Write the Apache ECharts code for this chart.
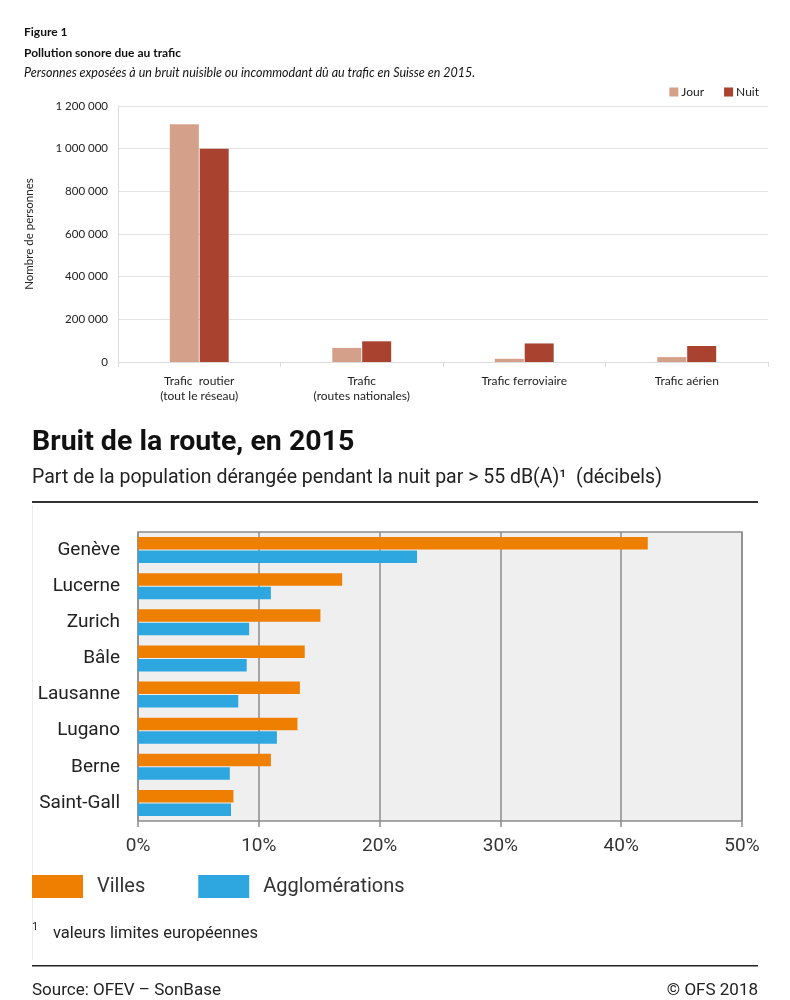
<!DOCTYPE html>
<html>
<head>
<meta charset="utf-8">
<style>
  html, body { margin: 0; padding: 0; background: #fff; }
  #chart { width: 790px; height: 1000px; }
</style>
<script src="https://cdn.jsdelivr.net/npm/echarts@6/dist/echarts.min.js"></script>
</head>
<body>
<div id="chart"></div>
<script>
// figure 1 : personnes exposées au bruit du trafic
var trafficCategories = ['Trafic  routier\n(tout le réseau)', 'Trafic\n(routes nationales)', 'Trafic ferroviaire', 'Trafic aérien'];
var jourValues = [1115000, 66000, 15000, 23000];
var nuitValues = [1000000, 97000, 87000, 75000];

// bruit de la route : part de la population (%)
var cities = ['Genève', 'Lucerne', 'Zurich', 'Bâle', 'Lausanne', 'Lugano', 'Berne', 'Saint-Gall'];
var villesValues = [42.2, 16.9, 15.1, 13.8, 13.4, 13.2, 11.0, 7.9];
var agglosValues = [23.1, 11.0, 9.2, 9.0, 8.3, 11.5, 7.6, 7.7];

var topFont = 'Lato, sans-serif';
var botFont = 'Roboto, sans-serif';

function spaced(v) {
  return String(v).replace(/\B(?=(\d{3})+(?!\d))/g, ' ');
}

var chart = echarts.init(document.getElementById('chart'));

var option = {
  backgroundColor: '#fff',
  animation: false,
  legend: [
    {
      data: ['Jour', 'Nuit'],
      right: 31,
      top: 86,
      padding: 0,
      itemWidth: 9,
      itemHeight: 9,
      itemGap: 20,
      icon: 'rect',
      textStyle: { fontFamily: topFont, fontSize: 12, color: '#222', padding: [0, 0, 0, -2] }
    },
    {
      data: ['Villes', 'Agglomérations'],
      left: 32,
      top: 875,
      padding: 0,
      itemWidth: 51,
      itemHeight: 23,
      itemGap: 53,
      icon: 'rect',
      textStyle: { fontFamily: botFont, fontSize: 20, color: '#333', padding: [0, 0, 0, 9] }
    }
  ],
  grid: [
    { left: 118, right: 22, top: 106, bottom: 638, containLabel: false },
    {
      left: 138, right: 48, top: 532, bottom: 179, containLabel: false,
      show: true, backgroundColor: '#efefef', borderColor: '#8c8c8c', borderWidth: 1.5
    }
  ],
  xAxis: [
    {
      gridIndex: 0,
      type: 'category',
      data: trafficCategories,
      axisLine: { lineStyle: { color: '#dcdcdc', width: 1 } },
      axisTick: { show: true, length: 5, lineStyle: { color: '#dcdcdc' } },
      axisLabel: { fontFamily: topFont, fontSize: 12, color: '#222', margin: 12, lineHeight: 15 }
    },
    {
      gridIndex: 1,
      type: 'value',
      min: 0,
      max: 50,
      interval: 10,
      axisLine: { show: false },
      axisTick: { show: true, length: 6, lineStyle: { color: '#8c8c8c', width: 1.5 } },
      splitLine: { show: true, lineStyle: { color: '#8c8c8c', width: 1.5 } },
      axisLabel: {
        fontFamily: botFont, fontSize: 19, color: '#333', margin: 16,
        formatter: function (v) { return v + '%'; }
      }
    }
  ],
  yAxis: [
    {
      gridIndex: 0,
      type: 'value',
      min: 0,
      max: 1200000,
      interval: 200000,
      name: 'Nombre de personnes',
      nameLocation: 'middle',
      nameGap: 83,
      nameTextStyle: { fontFamily: topFont, fontSize: 11.5, color: '#222' },
      axisLine: { show: true, lineStyle: { color: '#dcdcdc' } },
      axisTick: { show: false },
      splitLine: { lineStyle: { color: '#e3e3e3', width: 1 } },
      axisLabel: { fontFamily: topFont, fontSize: 11.5, color: '#222', margin: 10, formatter: spaced }
    },
    {
      gridIndex: 1,
      type: 'category',
      data: cities,
      inverse: true,
      axisLine: { show: false },
      axisTick: { show: false },
      axisLabel: { fontFamily: botFont, fontSize: 19, color: '#222', margin: 18 }
    }
  ],
  series: [
    {
      name: 'Jour', type: 'bar', xAxisIndex: 0, yAxisIndex: 0,
      data: jourValues, barWidth: 29, barGap: '3%',
      itemStyle: { color: '#d4a089' }
    },
    {
      name: 'Nuit', type: 'bar', xAxisIndex: 0, yAxisIndex: 0,
      data: nuitValues, barWidth: 29,
      itemStyle: { color: '#a9432f' }
    },
    {
      name: 'Villes', type: 'bar', xAxisIndex: 1, yAxisIndex: 1,
      data: villesValues, barWidth: 12.5, barGap: '8%',
      itemStyle: { color: '#ee7f00' }
    },
    {
      name: 'Agglomérations', type: 'bar', xAxisIndex: 1, yAxisIndex: 1,
      data: agglosValues, barWidth: 12.5,
      itemStyle: { color: '#2ea7e0' }
    }
  ],
  graphic: [
    { type: 'text', left: 24, top: 26, style: { text: 'Figure 1', font: 'bold 12px ' + topFont, fill: '#111' } },
    { type: 'text', left: 24, top: 47, style: { text: 'Pollution sonore due au trafic', font: 'bold 12px ' + topFont, fill: '#111' } },
    { type: 'text', left: 24, top: 66, style: { text: 'Personnes exposées à un bruit nuisible ou incommodant dû au trafic en Suisse en 2015.', font: 'italic 12.5px ' + topFont, fill: '#111' } },
    { type: 'text', left: 32, top: 428, style: { text: 'Bruit de la route, en 2015', font: 'bold 28.5px ' + botFont, fill: '#111' } },
    { type: 'text', left: 32, top: 468, style: { text: 'Part de la population dérangée pendant la nuit par > 55 dB(A)¹  (décibels)', font: '19.5px ' + botFont, fill: '#222' } },
    { type: 'rect', shape: { x: 32, y: 501, width: 726, height: 2 }, style: { fill: '#333' } },
    { type: 'rect', shape: { x: 32, y: 505, width: 1, height: 455 }, style: { fill: '#ececec' } },
    { type: 'text', left: 32, top: 922, style: { text: '1', font: '11px ' + botFont, fill: '#222' } },
    { type: 'text', left: 53, top: 925, style: { text: 'valeurs limites européennes', font: '16.5px ' + botFont, fill: '#222' } },
    { type: 'rect', shape: { x: 32, y: 965, width: 726, height: 1.5 }, style: { fill: '#222' } },
    { type: 'text', left: 32, top: 982, style: { text: 'Source: OFEV – SonBase', font: '17px ' + botFont, fill: '#222' } },
    { type: 'text', right: 32, top: 982, style: { text: '© OFS 2018', font: '17px ' + botFont, fill: '#222' } }
  ]
};

chart.setOption(option);
</script>
</body>
</html>
